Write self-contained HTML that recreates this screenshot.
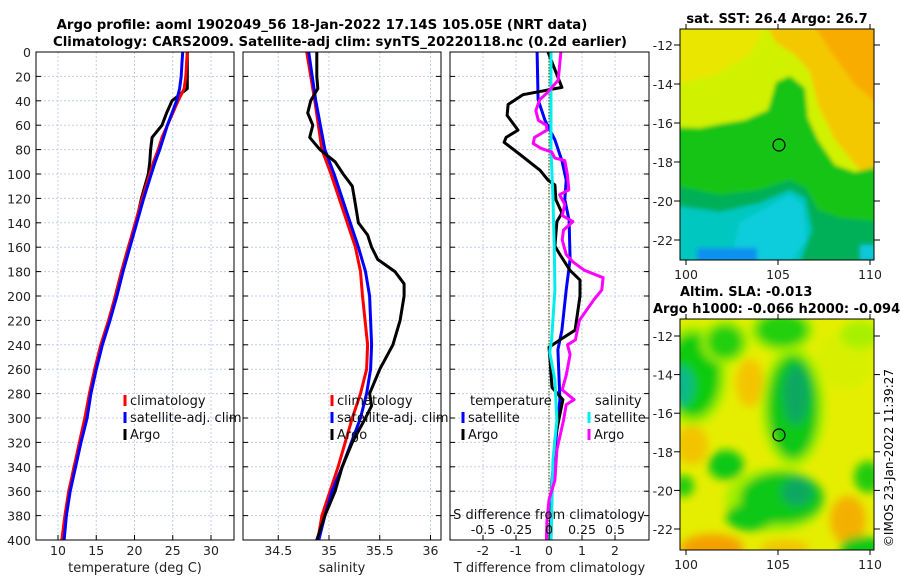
<!DOCTYPE html>
<html><head><meta charset="utf-8">
<style>
html,body{margin:0;padding:0;background:#fff;}
svg{display:block;font-family:"DejaVu Sans","Liberation Sans",sans-serif;}
</style></head>
<body>
<svg id="chart" width="900" height="580" viewBox="0 0 900 580" xmlns="http://www.w3.org/2000/svg">
<defs>
<filter id="blurS" x="-5%" y="-5%" width="110%" height="110%"><feGaussianBlur stdDeviation="2"/></filter>
<filter id="blurL" x="-10%" y="-10%" width="120%" height="120%"><feGaussianBlur stdDeviation="4.5"/></filter>
<clipPath id="clipSST"><rect x="680" y="29" width="194" height="231"/></clipPath>
<clipPath id="clipSLA"><rect x="680" y="319" width="194" height="231"/></clipPath>
<clipPath id="clipP1"><rect x="36" y="52" width="198" height="488"/></clipPath>
<clipPath id="clipP2"><rect x="243" y="52" width="198" height="488"/></clipPath>
<clipPath id="clipP3"><rect x="450" y="52" width="199" height="488"/></clipPath>
</defs>

<text x="322" y="29" text-anchor="middle" font-size="13.3" font-weight="bold">Argo profile: aoml 1902049_56 18-Jan-2022 17.14S 105.05E (NRT data)</text>
<text x="340" y="46" text-anchor="middle" font-size="13.3" font-weight="bold">Climatology: CARS2009. Satellite-adj clim: synTS_20220118.nc (0.2d earlier)</text>

<g id="panels"></g>

<!-- SST map -->
<g>
<text x="777" y="23" text-anchor="middle" font-size="13" font-weight="bold">sat. SST: 26.4 Argo: 26.7</text>
<g clip-path="url(#clipSST)">
<g filter="url(#blurS)">
<rect x="670" y="20" width="215" height="250" fill="#d0f200"/>
<polygon points="670,20 770,20 750,55 715,75 670,85" fill="#eae600"/>
<polygon points="765,20 885,20 885,190 858,168 835,140 818,105 810,72 795,55 775,42" fill="#f4c800"/>
<polygon points="810,20 885,20 885,110 855,85 830,50" fill="#f8ac00"/>
<polygon points="670,127 700,128 720,124 745,120 768,110 776,82 790,76 805,88 808,118 818,140 835,165 855,172 885,165 885,270 670,270" fill="#14c414"/>
<polygon points="670,185 720,195 760,190 790,180 806,188 818,210 840,218 885,222 885,270 670,270" fill="#00b058"/>
<polygon points="670,205 720,212 760,203 790,190 805,198 812,230 800,262 670,262" fill="#00c8c0"/>
<polygon points="740,222 790,195 803,205 806,240 790,262 730,262" fill="#10ccdc"/>
<rect x="697" y="248" width="60" height="14" fill="#0a90ee"/>
<rect x="860" y="245" width="20" height="15" fill="#10c8d8"/>
</g>
</g>
<rect x="680" y="29" width="194" height="231" fill="none" stroke="#000" stroke-width="1"/>
<circle cx="779" cy="145" r="6" fill="none" stroke="#000" stroke-width="1.2"/>
<g id="sstAxes"></g>
</g>

<!-- SLA map -->
<g>
<text x="680" y="296" font-size="13" font-weight="bold">Altim. SLA: -0.013</text>
<text x="653" y="313" font-size="13" font-weight="bold">Argo h1000: -0.066 h2000: -0.094</text>
<g clip-path="url(#clipSLA)">
<rect x="670" y="310" width="215" height="250" fill="#e6ee00"/>
<g filter="url(#blurL)">
<ellipse cx="750" cy="383" rx="14" ry="24" fill="#f4c400"/>
<ellipse cx="692" cy="445" rx="16" ry="20" fill="#f2c400"/>
<ellipse cx="712" cy="548" rx="32" ry="14" fill="#f4a000"/>
<ellipse cx="848" cy="520" rx="18" ry="24" fill="#f4b000"/>
<ellipse cx="785" cy="548" rx="25" ry="8" fill="#f0c400"/>
<ellipse cx="845" cy="360" rx="30" ry="30" fill="#d8f000"/>
<ellipse cx="693" cy="375" rx="34" ry="50" fill="#a0f000"/>
<ellipse cx="693" cy="375" rx="27" ry="42" fill="#10cc10"/>
<ellipse cx="682" cy="386" rx="12" ry="20" fill="#10b888"/>
<ellipse cx="725" cy="342" rx="24" ry="22" fill="#a0f000"/>
<ellipse cx="725" cy="342" rx="18" ry="17" fill="#20d010"/>
<ellipse cx="782" cy="330" rx="32" ry="22" fill="#a0f000"/>
<ellipse cx="782" cy="330" rx="26" ry="17" fill="#20d010"/>
<ellipse cx="860" cy="335" rx="20" ry="14" fill="#a8f000"/>
<ellipse cx="793" cy="407" rx="32" ry="60" fill="#a0f000"/>
<ellipse cx="793" cy="407" rx="25" ry="52" fill="#10c818"/>
<ellipse cx="796" cy="395" rx="13" ry="30" fill="#10a860"/>
<ellipse cx="726" cy="465" rx="18" ry="15" fill="#10c818"/>
<ellipse cx="775" cy="500" rx="50" ry="32" fill="#a0f000"/>
<ellipse cx="782" cy="498" rx="42" ry="26" fill="#10c818"/>
<ellipse cx="750" cy="517" rx="24" ry="14" fill="#10c818"/>
<ellipse cx="797" cy="492" rx="16" ry="14" fill="#10a860"/>
<ellipse cx="868" cy="477" rx="14" ry="16" fill="#20cc10"/>
<ellipse cx="862" cy="548" rx="22" ry="12" fill="#10c818"/>
<ellipse cx="684" cy="486" rx="10" ry="11" fill="#20cc10"/>
</g>
</g>
<rect x="680" y="319" width="194" height="231" fill="none" stroke="#000" stroke-width="1"/>
<circle cx="779" cy="435" r="6" fill="none" stroke="#000" stroke-width="1.2"/>
<g id="slaAxes"></g>
</g>

<text transform="translate(893,458) rotate(-90)" text-anchor="middle" font-size="12">©IMOS 23-Jan-2022 11:39:27</text>
</svg>

<script>
// ---------- data ----------
const tDepth = [0,10,20,30,40,50,60,70,80,90,100,120,140,160,180,200,220,240,260,280,300,320,340,360,380,400];
const tClim = [26.9,26.8,26.7,26.5,25.7,25.0,24.3,23.6,23.1,22.5,22.0,21.0,20.1,19.2,18.3,17.5,16.6,15.6,14.8,14.1,13.5,12.8,12.1,11.4,10.9,10.5];
const tSat  = [26.3,26.2,26.1,25.9,25.5,24.9,24.3,23.8,23.3,22.7,22.2,21.2,20.3,19.4,18.5,17.7,16.8,15.8,15.0,14.3,13.8,13.0,12.3,11.6,11.1,10.8];
const tArgo = [26.9,26.9,26.9,26.9,24.9,24.2,23.6,22.3,22.1,22.0,21.8,20.9,20.2,19.2,18.3,17.5,16.7,15.7,14.9,14.2,13.7,12.9,12.1,11.5,11.0,10.6];

const sDepthClim = [0,40,80,100,140,160,180,200,240,260,280,300,340,360,380,400];
const sClim = [34.78,34.86,34.93,35.02,35.18,35.26,35.31,35.33,35.38,35.37,35.31,35.23,35.09,35.01,34.93,34.89];
const sSat  = [34.80,34.87,34.96,35.05,35.21,35.29,35.36,35.40,35.42,35.41,35.37,35.31,35.13,35.03,34.96,34.90];
const sDepthArgo = [0,20,30,40,50,60,70,80,90,100,110,120,140,150,160,170,180,190,200,220,240,260,280,290,300,320,340,360,380,400];
const sArgo = [34.88,34.88,34.89,34.82,34.79,34.84,34.81,34.91,35.06,35.14,35.23,35.25,35.29,35.38,35.42,35.48,35.65,35.74,35.74,35.70,35.63,35.50,35.40,35.42,35.36,35.23,35.13,35.06,34.96,34.88];

const dtArgoDepth = [0,29,35,43,52,64,70,74,84,97,105,109,121,132,139,159,166,179,187,193,200,228,236,242,252,275,285,297,318,359,400];
const dtArgo = [-0.03,0.39,-0.79,-1.24,-1.27,-0.94,-1.30,-1.36,-0.88,-0.27,-0.03,0.18,0.21,0.39,0.24,0.18,0.33,0.64,0.94,0.94,0.94,0.79,0.33,0.00,0.03,0.09,0.42,0.33,0.18,0.09,0.03];
const dtSatDepth = [0,39,56,72,89,105,121,138,170,195,228,244,285,318,351,400];
const dtSat = [-0.36,-0.33,-0.12,0.18,0.39,0.52,0.48,0.61,0.64,0.52,0.39,0.27,0.33,0.21,0.09,0.06];
const dsSatDepth = [0,39,80,121,162,195,236,246,269,302,334,400];
const dsSat = [0.015,0.015,0.015,0.03,0.04,0.045,0.02,0.005,0.045,0.06,0.03,0.015];
const dsArgoDepth = [0,23,33,39,48,56,60,64,70,75,79,82,87,89,101,113,117,125,134,139,146,154,166,172,179,185,195,203,220,236,240,248,265,277,285,289,302,326,351,367,384,400];
const dsArgo = [0.09,0.07,-0.01,-0.07,-0.10,-0.08,-0.02,-0.015,-0.11,-0.12,-0.06,0.02,0.045,0.12,0.14,0.15,0.08,0.12,0.10,0.18,0.11,0.10,0.13,0.18,0.27,0.41,0.40,0.34,0.23,0.20,0.14,0.16,0.13,0.10,0.19,0.13,0.11,0.06,0.045,0.00,-0.015,-0.02];

const depthTicks = [0,20,40,60,80,100,120,140,160,180,200,220,240,260,280,300,320,340,360,380,400];
const tTicks = [10,15,20,25,30];
const sTicks = [34.5,35,35.5,36];
const dtTicks = [-2,-1,0,1,2];
const dsTicks = [-0.5,-0.25,0,0.25,0.5];
const dsTickLabels = ["-0.5","-0.25","0","0.25","0.5"];
const latTicks = [-12,-14,-16,-18,-20,-22];
const lonTicks = [100,105,110];

// ---------- scales ----------
const NS = "http://www.w3.org/2000/svg";
const Y0 = 52, Y1 = 540;
const yD = d => Y0 + d / 400 * (Y1 - Y0);
const xT = t => 58 + (t - 10) * 7.65;
const xS = s => 329 + (s - 35) * 101.5;
const xDT = v => 549 + v * 33;
const xDS = v => 549 + v * 132;
const lonX = l => 686 + (l - 100) * 18.4;
const latYsst = l => 45 + (-12 - l) * 19.5;
const latYsla = l => 336 + (-12 - l) * 19.3;

function mk(tag, attrs, parent) {
  const e = document.createElementNS(NS, tag);
  for (const k in attrs) e.setAttribute(k, attrs[k]);
  parent.appendChild(e);
  return e;
}
const root = document.getElementById('panels');

function panel(name, x0, x1, xticks, xfn, xlabels, xtitle, clip) {
  const g = mk('g', {}, root);
  
  
  const grid = mk('g', {stroke: '#c4cbe8', 'stroke-width': 1, 'stroke-dasharray': '2,2'}, g);
  
  
  depthTicks.forEach(d => { if (d > 0 && d < 400) mk('line', {x1: x0, x2: x1, y1: yD(d), y2: yD(d)}, grid); });
  xticks.forEach(v => mk('line', {x1: xfn(v), x2: xfn(v), y1: Y0, y2: Y1}, grid));
  const lines = mk('g', {'clip-path': 'url(#' + clip + ')'}, g);
  
  
  const fr = mk('rect', {x: x0, y: Y0, width: x1 - x0, height: Y1 - Y0, fill: 'none', stroke: '#000', 'stroke-width': 1}, g);
  
  
  const tk = mk('g', {stroke: '#000', 'stroke-width': 1}, g);
  depthTicks.forEach(d => {
    mk('line', {x1: x0, x2: x0 + 5, y1: yD(d), y2: yD(d)}, tk);
    mk('line', {x1: x1 - 5, x2: x1, y1: yD(d), y2: yD(d)}, tk);
  });
  xticks.forEach(v => mk('line', {x1: xfn(v), x2: xfn(v), y1: Y1, y2: Y1 - 5}, tk));
  xticks.forEach((v, i) => {
    const t = mk('text', {x: xfn(v), y: 555, 'text-anchor': 'middle', 'font-size': 12.5, fill: '#222'}, g);
    t.textContent = xlabels[i];
    
    
  });
  const tt = mk('text', {x: (x0 + x1) / 2, y: 572, 'text-anchor': 'middle', 'font-size': 13, fill: '#222'}, g);
  tt.textContent = xtitle;
  
  
  return lines;
}
function series(parent, name, xs, ds, xfn, color, w) {
  const pts = xs.map((v, i) => xfn(v).toFixed(1) + ',' + yD(ds[i]).toFixed(1)).join(' ');
  const p = mk('polyline', {points: pts, fill: 'none', stroke: color, 'stroke-width': w, 'stroke-linejoin': 'round'}, parent);
  
  
}
function legend(parent, x, y, color, label, name) {
  const g = mk('g', {}, parent);
  
  
  mk('line', {x1: x, x2: x, y1: y - 10, y2: y + 1, stroke: color, 'stroke-width': 3}, g);
  const t = mk('text', {x: x + 5, y: y, 'font-size': 13, fill: '#111'}, g);
  t.textContent = label;
}

depthTicks.forEach(d => {
  const t = mk('text', {x: 31, y: yD(d) + 5, 'text-anchor': 'end', 'font-size': 12.5, fill: '#222'}, root);
  t.textContent = d;
  
  
});

const p1 = panel('temperature-panel', 36, 234, tTicks, xT, tTicks.map(String), 'temperature (deg C)', 'clipP1');
series(p1, 'temperature-argo-line', tArgo, tDepth, xT, '#000', 3);
series(p1, 'temperature-climatology-line', tClim, tDepth, xT, '#f00', 3);
series(p1, 'temperature-satellite-line', tSat, tDepth, xT, '#00f', 3);
const lg1 = mk('g', {}, root);
legend(lg1, 125, 405, '#f00', 'climatology', 'legend-climatology');
legend(lg1, 125, 422, '#00f', 'satellite-adj. clim', 'legend-satellite-adj');
legend(lg1, 125, 439, '#000', 'Argo', 'legend-argo');

const p2 = panel('salinity-panel', 243, 441, sTicks, xS, ["34.5","35","35.5","36"], 'salinity', 'clipP2');
series(p2, 'salinity-climatology-line', sClim, sDepthClim, xS, '#f00', 3);
series(p2, 'salinity-satellite-line', sSat, sDepthClim, xS, '#00f', 3);
series(p2, 'salinity-argo-line', sArgo, sDepthArgo, xS, '#000', 3);
const lg2 = mk('g', {}, root);
legend(lg2, 332, 405, '#f00', 'climatology', 'legend-climatology-2');
legend(lg2, 332, 422, '#00f', 'satellite-adj. clim', 'legend-satellite-adj-2');
legend(lg2, 332, 439, '#000', 'Argo', 'legend-argo-2');

const p3 = panel('difference-panel', 450, 649, dtTicks, xDT, dtTicks.map(String), 'T difference from climatology', 'clipP3');
const zl = mk('line', {x1: 549, x2: 549, y1: Y0, y2: Y1, stroke: '#556b2f', 'stroke-width': 1.3, 'stroke-dasharray': '1.5,1.5'}, p3);


series(p3, 'dt-satellite-line', dtSat, dtSatDepth, xDT, '#00f', 3);
series(p3, 'dt-argo-line', dtArgo, dtArgoDepth, xDT, '#000', 3);
series(p3, 'ds-satellite-line', dsSat, dsSatDepth, xDS, '#0ee', 3);
series(p3, 'ds-argo-line', dsArgo, dsArgoDepth, xDS, '#f0f', 3);
const lg3 = mk('g', {}, root);
const th = mk('text', {x: 470, y: 405, 'font-size': 13, fill: '#111'}, lg3);
th.textContent = 'temperature';


const sh = mk('text', {x: 595, y: 405, 'font-size': 13, fill: '#111'}, lg3);
sh.textContent = 'salinity';


legend(lg3, 463, 422, '#00f', 'satellite', 'legend-t-satellite');
legend(lg3, 463, 439, '#000', 'Argo', 'legend-t-argo');
legend(lg3, 589, 422, '#0ee', 'satellite', 'legend-s-satellite');
legend(lg3, 589, 439, '#f0f', 'Argo', 'legend-s-argo');
const sTitle = mk('text', {x: 549, y: 519, 'text-anchor': 'middle', 'font-size': 13, fill: '#111'}, root);
sTitle.textContent = 'S difference from climatology';


dsTicks.forEach((v, i) => {
  const t = mk('text', {x: xDS(v), y: 534, 'text-anchor': 'middle', 'font-size': 12.5, fill: '#111'}, root);
  t.textContent = dsTickLabels[i];
  
  
});

function mapAxes(gid, latY, top, bottom) {
  const g = document.getElementById(gid);
  latTicks.forEach(l => {
    const y = latY(l);
    mk('line', {x1: 674, x2: 680, y1: y, y2: y, stroke: '#000'}, g);
    mk('line', {x1: 874, x2: 880, y1: y, y2: y, stroke: '#000'}, g);
    const t = mk('text', {x: 673, y: y + 5, 'text-anchor': 'end', 'font-size': 12.5, fill: '#222'}, g);
    t.textContent = l;
    
    
  });
  lonTicks.forEach(l => {
    const x = lonX(l);
    mk('line', {x1: x, x2: x, y1: bottom, y2: bottom + 5, stroke: '#000'}, g);
    mk('line', {x1: x, x2: x, y1: top - 5, y2: top, stroke: '#000'}, g);
    const t = mk('text', {x: x, y: bottom + 19, 'text-anchor': 'middle', 'font-size': 12.5, fill: '#222'}, g);
    t.textContent = l;
    
    
  });
}
mapAxes('sstAxes', latYsst, 29, 260);
mapAxes('slaAxes', latYsla, 319, 550);
</script>
</body></html>
